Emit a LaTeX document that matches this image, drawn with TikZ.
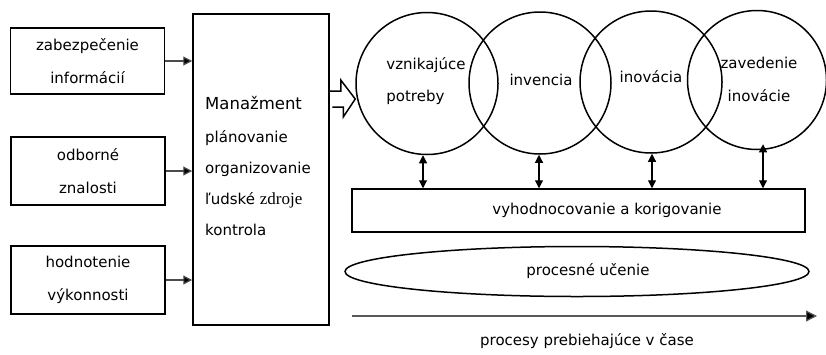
\documentclass[tikz,border=0pt]{standalone}
\usepackage{fontspec}
\setmainfont{DejaVu Sans}
\newfontfamily\serifx{Liberation Serif}
\usetikzlibrary{shapes.geometric,arrows.meta}
\begin{document}
\begin{tikzpicture}[x=1pt,y=-1pt,
  font=\fontsize{15}{18}\selectfont,
  box/.style={draw, line width=1.5pt, inner sep=0pt},
  circ/.style={draw, circle, line width=1.5pt, inner sep=0pt, minimum size=142},
  lbl/.style={inner sep=0pt, align=center},
  inarrow/.style={draw=black!70, line width=1.2pt, -{Triangle[length=9pt,width=9pt,fill=black]}},
  dblarrow/.style={line width=1.1pt, {Triangle[length=8pt,width=8pt]}-{Triangle[length=8pt,width=8pt]}},
  timearrow/.style={draw=black!65, line width=1.2pt, -{Triangle[length=11pt,width=11pt,fill=black]}}
]
\useasboundingbox (0,0) rectangle (826,354);

% left boxes
\node[box, minimum width=154, minimum height=66, align=center, font=\fontsize{15}{33}\selectfont] (b1) at (87.5,61) {zabezpečenie\\informácií};
\node[box, minimum width=154, minimum height=68, align=center, font=\fontsize{15}{33}\selectfont] (b2) at (88,171) {odborné\\znalosti};
\node[box, minimum width=154, minimum height=68, align=center, font=\fontsize{15}{33}\selectfont] (b3) at (88,280) {hodnotenie\\výkonnosti};

% management box
\node[box, minimum width=136, minimum height=311] (mgr) at (261,169.5) {};
\node[lbl, align=left, anchor=west, font=\fontsize{15}{31}\selectfont] (mgrt) at (205,166)
  {{\fontsize{16.5}{18}\selectfont Manažment}\\[2pt]plánovanie\\organizovanie\\ľudské {\fontsize{17}{18}\selectfont\serifx zdroje}\\kontrola};

\draw[inarrow] (b1.east) -- (b1.east -| mgr.west);
\draw[inarrow] (b2.east) -- (b2.east -| mgr.west);
\draw[inarrow] (b3.east) -- (b3.east -| mgr.west);

% circles
\node[circ] (c1) at (427,83.5) {};
\node[circ] (c2) at (540,83) {};
\node[circ] (c3) at (651,82) {};
\node[circ, minimum size=139] (c4) at (757,80) {};

\node[lbl, align=left, font=\fontsize{15}{32}\selectfont] (t1) at (426,81) {vznikajúce\\potreby};
\node[lbl] (t2) at (541,80) {invencia};
\node[lbl] (t3) at (651,77) {inovácia};
\node[lbl, font=\fontsize{15}{33}\selectfont] (t4) at (759,79) {zavedenie\\inovácie};

% hollow arrow
\coordinate (ha) at (mgr.east |- 0,99);
\draw[line width=1.5pt, fill=white, line join=miter]
  (ha) ++(0,-8) -- ++(11,0) -- ++(0,-11) -- (c1.west |- ha) -- ++(-12,18) -- ++(0,-10) -- ++(-11,0);

% evaluation box
\node[box, minimum width=453, minimum height=43] (vk) at (578.5,210.5) {};
\node[lbl] (vkt) at (607,210) {vyhodnocovanie a korigovanie};

\draw[dblarrow] ([xshift=-4]c1.south) -- ([xshift=-4]c1.south |- vk.north);
\draw[dblarrow] ([xshift=-1]c2.south) -- ([xshift=-1]c2.south |- vk.north);
\draw[dblarrow] ([xshift=1]c3.south) -- ([xshift=1]c3.south |- vk.north);
\draw[dblarrow] ([xshift=6,yshift=6]c4.south) -- ([xshift=6]c4.south |- vk.north);

% ellipse
\node[draw, ellipse, line width=1.5pt, inner sep=0pt, minimum width=464, minimum height=50] (el) at (577,271.5) {};
\node[lbl] (elt) at (588,271) {procesné učenie};

% time arrow
\coordinate (ts) at (352,316);
\coordinate (te) at (817,316);
\draw[timearrow] (ts) -- (te);
\node[lbl] (tl) at (587,341) {procesy prebiehajúce v čase};
\end{tikzpicture}
\end{document}
